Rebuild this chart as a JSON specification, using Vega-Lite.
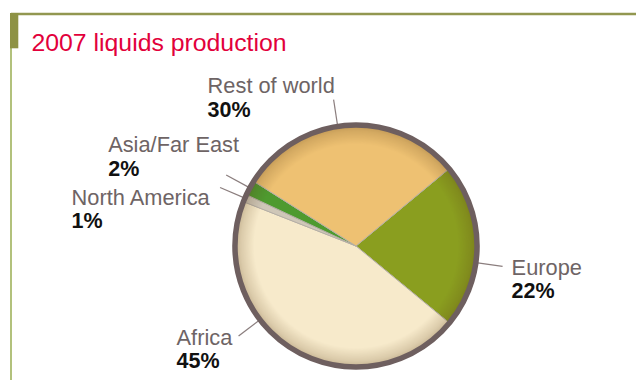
{
  "$schema": "https://vega.github.io/schema/vega-lite/v6.json",
  "width": 625,
  "height": 366,
  "autosize": "none",
  "padding": {"left": 11, "top": 14, "right": 0, "bottom": 0},
  "background": "white",
  "config": {"view": {"stroke": null}, "text": {"font": "Liberation Sans"}},
  "title": {
    "text": "2007 liquids production",
    "anchor": "start",
    "frame": "group",
    "orient": "top",
    "offset": 0,
    "baseline": "alphabetic",
    "dx": 20.5,
    "dy": 63.3,
    "color": "#E2003B",
    "font": "Liberation Sans",
    "fontSize": 24.8,
    "fontWeight": "normal"
  },
  "data": {
    "values": [
      {"region": "Europe", "share": 22},
      {"region": "Africa", "share": 45},
      {"region": "North America", "share": 1},
      {"region": "Asia/Far East", "share": 2},
      {"region": "Rest of world", "share": 30}
    ]
  },
  "transform": [
    {"window": [{"op": "row_number", "as": "idx"}]},
    {"window": [{"op": "sum", "field": "share", "as": "cum"}], "sort": [{"field": "idx"}], "frame": [null, 0]},
    {"calculate": "datum.region === 'Europe' ? 8 : datum.region === 'Africa' ? 22 : datum.region === 'Rest of world' ? -5 : 0", "as": "nudge"},
    {"calculate": "(50.3 + 3.6 * (datum.cum - datum.share / 2) + datum.nudge) * PI / 180", "as": "ang"},
    {"calculate": "121 * sin(datum.ang)", "as": "lx1"},
    {"calculate": "121 * cos(datum.ang)", "as": "ly1"},
    {"calculate": "148 * sin(datum.ang)", "as": "lx2"},
    {"calculate": "148 * cos(datum.ang)", "as": "ly2"},
    {"calculate": "datum.lx2 + (datum.region === 'Europe' ? 9 : datum.region === 'Africa' ? -62 : datum.region === 'North America' ? -148.5 : datum.region === 'Asia/Far East' ? -118 : -126)", "as": "tx"},
    {"calculate": "datum.ly2 - (datum.region === 'Europe' ? 8.4 : datum.region === 'Africa' ? 8.6 : datum.region === 'North America' ? 17.2 : datum.region === 'Asia/Far East' ? -22.9 : -6.7)", "as": "ty"},
    {"calculate": "datum.share + '%'", "as": "pct"}
  ],
  "layer": [
    {
      "transform": [{"aggregate": [{"op": "count", "as": "n"}]}],
      "mark": {"type": "rule", "color": "#929750", "strokeWidth": 2.5},
      "encoding": {
        "x": {"datum": -345, "type": "quantitative", "scale": {"domain": [-345, 280], "nice": false, "zero": false}, "axis": null},
        "x2": {"datum": 280},
        "y": {"datum": 232, "type": "quantitative", "scale": {"domain": [-134, 232], "nice": false, "zero": false}, "axis": null}
      }
    },
    {
      "transform": [{"aggregate": [{"op": "count", "as": "n"}]}],
      "mark": {"type": "rule", "color": "#AABB6E", "strokeWidth": 1.8},
      "encoding": {
        "x": {"datum": -345, "type": "quantitative", "scale": {"domain": [-345, 280], "nice": false, "zero": false}, "axis": null},
        "y": {"datum": 232, "type": "quantitative", "scale": {"domain": [-134, 232], "nice": false, "zero": false}, "axis": null},
        "y2": {"datum": -134}
      }
    },
    {
      "transform": [{"aggregate": [{"op": "count", "as": "n"}]}],
      "mark": {"type": "rect", "color": "#8E9245"},
      "encoding": {
        "x": {"datum": -346, "type": "quantitative", "scale": {"domain": [-345, 280], "nice": false, "zero": false}, "axis": null},
        "x2": {"datum": -337.7},
        "y": {"datum": 233, "type": "quantitative", "scale": {"domain": [-134, 232], "nice": false, "zero": false}, "axis": null},
        "y2": {"datum": 197.7}
      }
    },
    {
      "mark": {"type": "rule", "color": "#8B7E7E", "strokeWidth": 1.2},
      "encoding": {
        "x": {"field": "lx1", "type": "quantitative", "scale": {"domain": [-345, 280], "nice": false, "zero": false}, "axis": null},
        "y": {"field": "ly1", "type": "quantitative", "scale": {"domain": [-134, 232], "nice": false, "zero": false}, "axis": null},
        "x2": {"field": "lx2"},
        "y2": {"field": "ly2"}
      }
    },
    {
      "mark": {"type": "arc", "radius": 121, "stroke": "#B5AFA6", "strokeWidth": 1},
      "encoding": {
        "x": {"datum": 0, "type": "quantitative", "scale": {"domain": [-345, 280], "nice": false, "zero": false}, "axis": null},
        "y": {"datum": 0, "type": "quantitative", "scale": {"domain": [-134, 232], "nice": false, "zero": false}, "axis": null},
        "theta": {"field": "share", "type": "quantitative", "stack": true, "scale": {"range": [0.8779, 7.1611]}},
        "order": {"field": "idx", "type": "quantitative"},
        "color": {
          "field": "region",
          "type": "nominal",
          "legend": null,
          "scale": {
            "domain": ["Europe", "Africa", "North America", "Asia/Far East", "Rest of world"],
            "range": ["#8A9E1F", "#F7EACB", "#CFC7B8", "#4E9A2F", "#EEC172"]
          }
        }
      }
    },
    {
      "transform": [{"aggregate": [{"op": "count", "as": "n"}]}],
      "mark": {
        "type": "arc",
        "radius": 121,
        "theta": 0,
        "theta2": 6.2832,
        "stroke": "#6E5F5F",
        "strokeWidth": 5.5,
        "fill": {
          "gradient": "radial",
          "x1": 0.5, "y1": 0.5, "r1": 0,
          "x2": 0.5, "y2": 0.5, "r2": 0.5,
          "stops": [
            {"offset": 0, "color": "rgba(90,60,20,0)"},
            {"offset": 0.84, "color": "rgba(90,60,20,0)"},
            {"offset": 0.95, "color": "rgba(90,60,20,0.18)"},
            {"offset": 1, "color": "rgba(90,60,20,0.32)"}
          ]
        }
      },
      "encoding": {
        "x": {"datum": 0, "type": "quantitative", "scale": {"domain": [-345, 280], "nice": false, "zero": false}, "axis": null},
        "y": {"datum": 0, "type": "quantitative", "scale": {"domain": [-134, 232], "nice": false, "zero": false}, "axis": null}
      }
    },
    {
      "mark": {"type": "text", "align": "left", "baseline": "alphabetic", "fontSize": 21.8, "color": "#6E6465", "font": "Liberation Sans"},
      "encoding": {
        "x": {"field": "tx", "type": "quantitative", "scale": {"domain": [-345, 280], "nice": false, "zero": false}, "axis": null},
        "y": {"field": "ty", "type": "quantitative", "scale": {"domain": [-134, 232], "nice": false, "zero": false}, "axis": null},
        "text": {"field": "region"}
      }
    },
    {
      "mark": {"type": "text", "align": "left", "baseline": "alphabetic", "dy": 23.5, "fontSize": 21.5, "fontWeight": "bold", "color": "#111111", "font": "Liberation Sans"},
      "encoding": {
        "x": {"field": "tx", "type": "quantitative", "scale": {"domain": [-345, 280], "nice": false, "zero": false}, "axis": null},
        "y": {"field": "ty", "type": "quantitative", "scale": {"domain": [-134, 232], "nice": false, "zero": false}, "axis": null},
        "text": {"field": "pct"}
      }
    }
  ]
}
